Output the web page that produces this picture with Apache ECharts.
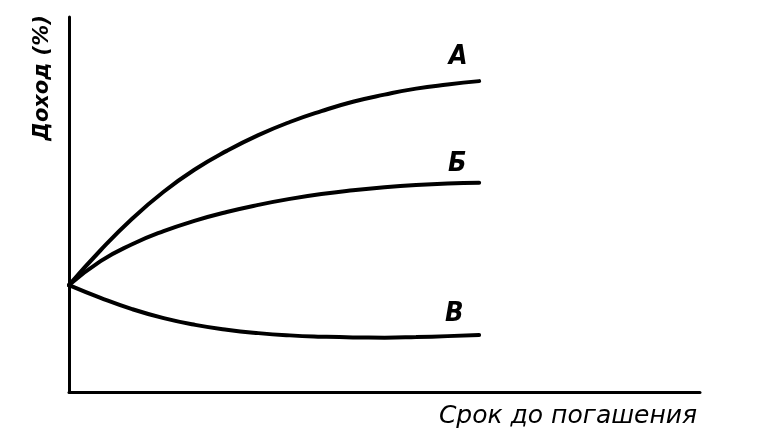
<!DOCTYPE html>
<html>
<head>
<meta charset="utf-8">
<script src="https://cdn.jsdelivr.net/npm/echarts@6/dist/echarts.min.js"></script>
<style>html,body{margin:0;padding:0;background:#fff}#c{width:759px;height:439px}</style>
</head>
<body>
<div id="c"></div>
<script>
const xValues = [0, 5, 10, 15, 20, 25, 30, 35, 40, 45, 50, 55, 60, 65];
const seriesA = [28.5, 37.8, 46.2, 53.4, 59.4, 64.3, 68.5, 72.0, 74.9, 77.4, 79.3, 80.9, 82.0, 82.9];
const seriesB = [28.5, 34.9, 39.4, 42.9, 45.7, 48.0, 49.9, 51.5, 52.8, 53.8, 54.6, 55.2, 55.6, 55.8];
const seriesV = [28.5, 25.1, 22.1, 19.7, 17.9, 16.6, 15.7, 15.1, 14.75, 14.55, 14.5, 14.65, 14.9, 15.2];
const seriesNames = ['А', 'Б', 'В'];
const xTitle = 'Срок до погашения';
const yTitle = 'Доход (%)';

const chart = echarts.init(document.getElementById('c'), null, {renderer: 'canvas'});
function mk(name, vals, off) {
  return {
    name: name, type: 'line', smooth: 0.5, symbol: 'none',
    data: xValues.map((x, i) => [x, vals[i]]),
    lineStyle: {color: '#000', width: 4, cap: 'round'},
    endLabel: {
      show: true, formatter: name, color: '#000',
      fontFamily: 'DejaVu Sans Condensed', fontStyle: 'italic', fontWeight: 'bold', fontSize: 27,
      offset: off, align: 'center', verticalAlign: 'middle'
    },
    animation: false
  };
}
chart.setOption({
  backgroundColor: '#fff',
  animation: false,
  grid: {left: 69, top: 17, right: 59, bottom: 47},
  xAxis: {
    type: 'value', min: 0, max: 100,
    axisLine: {show: true, onZero: false, lineStyle: {color: '#000', width: 3}},
    axisTick: {show: false}, axisLabel: {show: false}, splitLine: {show: false}
  },
  yAxis: {
    type: 'value', min: 0, max: 100,
    axisLine: {show: true, onZero: false, lineStyle: {color: '#000', width: 3}},
    axisTick: {show: false}, axisLabel: {show: false}, splitLine: {show: false}
  },
  series: [
    mk(seriesNames[0], seriesA, [-29, -24]),
    mk(seriesNames[1], seriesB, [-30, -19]),
    mk(seriesNames[2], seriesV, [-33, -21])
  ],
  graphic: [
    {type: 'text', x: 568, y: 416, style: {text: xTitle, fill: '#000', font: 'italic 25px "DejaVu Sans"', align: 'center', verticalAlign: 'middle'}},
    {type: 'text', x: 43, y: 78, rotation: Math.PI / 2, style: {text: yTitle, fill: '#000', font: 'italic bold 21px "DejaVu Sans"', align: 'center', verticalAlign: 'middle'}}
  ]
});
</script>
</body>
</html>
